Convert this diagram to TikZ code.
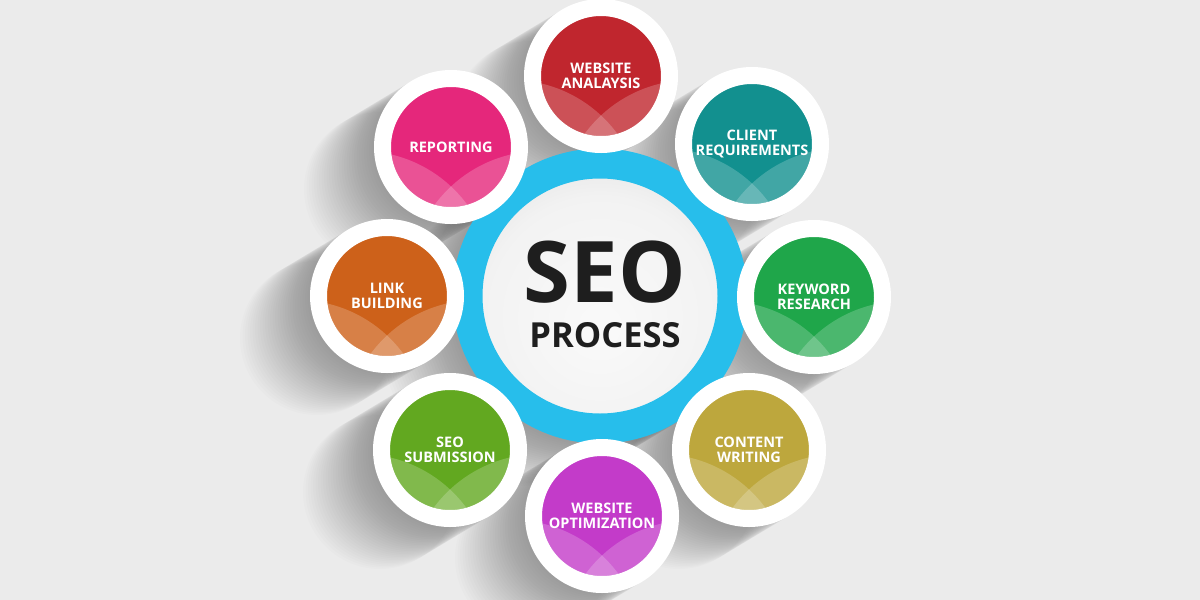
\documentclass[tikz,border=0pt]{standalone}
\usepackage{fontspec}
\setmainfont{Open Sans}
\usepackage{graphicx}
\definecolor{bgcol}{HTML}{EBEBEB}
\definecolor{ringblue}{HTML}{27BEEB}
\definecolor{seodark}{HTML}{1E1E1E}
\definecolor{cRP}{HTML}{E5277B}
\definecolor{cWA}{HTML}{C0262E}
\definecolor{cCR}{HTML}{12908F}
\definecolor{cKR}{HTML}{1FA64A}
\definecolor{cCW}{HTML}{BDA73D}
\definecolor{cWO}{HTML}{C33BC9}
\definecolor{cSS}{HTML}{62A820}
\definecolor{cLB}{HTML}{CD611A}
\pgfdeclareradialshading{seoshade}{\pgfpoint{0bp}{-6bp}}{color(0bp)=(gray!4); color(22bp)=(gray!10); color(44bp)=(gray!38); color(50bp)=(gray!42)}
\begin{document}
\begin{tikzpicture}[x=1pt,y=-1pt,
  sat/.style={circle,draw=white,line width=17pt,minimum size=137pt,inner sep=0pt},
  satlabel/.style={text=white,font=\bfseries\fontsize{14.5}{15}\selectfont,align=center,inner sep=0pt},
  lens/.style={fill=white,fill opacity=0.2},
  shadowstep/.style={fill=black,fill opacity=0.0105}]
\fill[bgcol] (0,0) rectangle (1200,600);
\useasboundingbox (0,0) rectangle (1200,600);
% soft shadows cast to the lower left
\foreach \cx/\cy/\r in {600/296/148, 601/76/77, 752/144/77, 814/297/77, 749/450/77, 602/516/77, 450/450/77, 387/296/77, 451/147/77}{
  \foreach \k in {1,...,28}{
    \fill[shadowstep] ({\cx-2.5*\k},{\cy+1.5*\k}) circle[radius=\r pt];
  }
}
% central circle
\node[circle,minimum size=265pt,inner sep=0pt,draw=ringblue,line width=30pt,shading=seoshade] (seo) at (600,296) {};
\node[text=seodark,font=\bfseries\fontsize{85}{85}\selectfont,inner sep=0pt] (seo-t) at (605,272) {\scalebox{1.0}[1]{SEO}};
\node[text=seodark,font=\bfseries\fontsize{34.5}{35}\selectfont,inner sep=0pt] (proc-t) at (605,335) {PROCESS};
% satellites
\foreach \nm/\cx/\cy/\col in {wa/601/76/cWA, cr/752/144/cCR, kr/814/297/cKR, cw/749/450/cCW, wo/602/516/cWO, ss/450/450/cSS, lb/387/296/cLB, rp/451/147/cRP}{
  \node[sat,fill=\col] (\nm) at (\cx,\cy) {};
  \begin{scope}
    \clip (\nm.center) circle[radius=60pt];
    \fill[lens] ([shift={(-90pt,-136pt)}]\nm.center) circle[radius=132pt];
    \fill[lens] ([shift={(90pt,-136pt)}]\nm.center) circle[radius=132pt];
  \end{scope}
}
\node[satlabel] (wa-t) at (wa) {WEBSITE\\ANALAYSIS};
\node[satlabel] (cr-t) at (cr) {CLIENT\\REQUIREMENTS};
\node[satlabel] (kr-t) at (kr) {KEYWORD\\RESEARCH};
\node[satlabel] (cw-t) at (cw) {CONTENT\\WRITING};
\node[satlabel] (wo-t) at (wo) {WEBSITE\\OPTIMIZATION};
\node[satlabel] (ss-t) at (ss) {SEO\\SUBMISSION};
\node[satlabel] (lb-t) at (lb) {LINK\\BUILDING};
\node[satlabel] (rp-t) at (rp) {REPORTING};
\end{tikzpicture}
\end{document}
